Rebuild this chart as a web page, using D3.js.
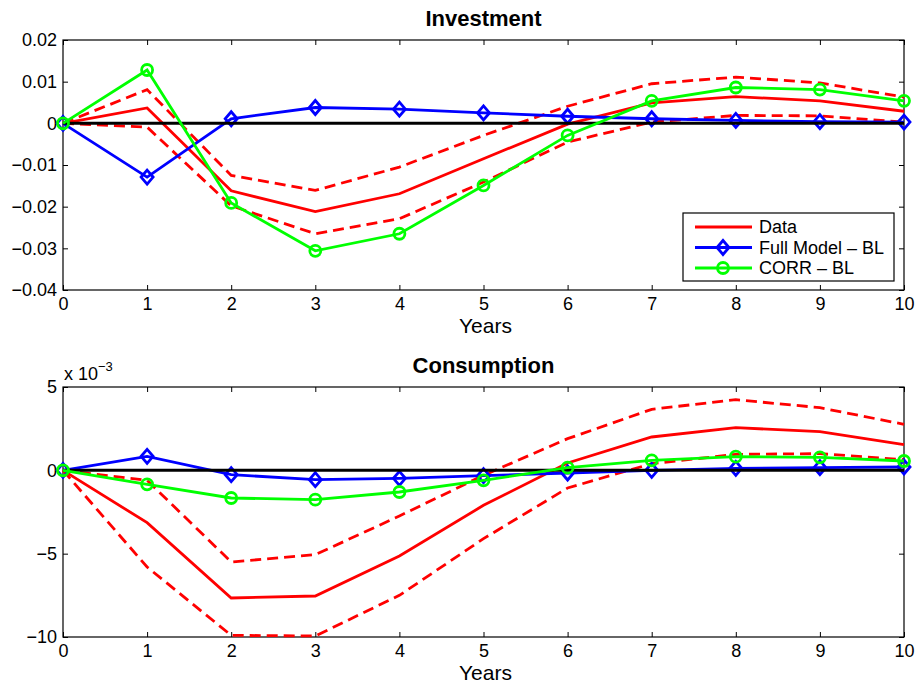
<!DOCTYPE html>
<html>
<head>
<meta charset="utf-8">
<script src="https://cdn.jsdelivr.net/npm/d3@7"></script>
<style>
  html, body { margin: 0; padding: 0; background: #fff; }
  svg { display: block; font-family: "Liberation Sans", Arial, Helvetica, sans-serif; }
</style>
</head>
<body>
<div id="chart"></div>
<script>
// ── Datos ─────────────────────────────────────────────────────────────────
const years = [0, 1, 2, 3, 4, 5, 6, 7, 8, 9, 10];

// Investment
const invData  = [0, 0.0037, -0.0162, -0.0212, -0.0169, -0.0085, -0.0002, 0.0049, 0.0064, 0.0054, 0.0029];
const invUpper = [0, 0.0081, -0.0125, -0.0161, -0.0105, -0.0029, 0.0041, 0.0095, 0.0111, 0.0097, 0.0063];
const invLower = [0, -0.0009, -0.0198, -0.0265, -0.0229, -0.0141, -0.0045, 0.0003, 0.0019, 0.0018, 0.0003];
const invFull  = [0, -0.0129, 0.0011, 0.0038, 0.0034, 0.0025, 0.0017, 0.0011, 0.0007, 0.0004, 0.0003];
const invCorr  = [0, 0.0128, -0.0191, -0.0306, -0.0265, -0.0149, -0.0029, 0.0054, 0.0086, 0.0081, 0.0054];
const invTicks = [0.02, 0.01, 0, -0.01, -0.02, -0.03, -0.04];

// Consumption (en unidades de 10^-3)
const conData  = [0, -3.14, -7.66, -7.54, -5.14, -2.1, 0.44, 2.0, 2.56, 2.32, 1.54];
const conUpper = [0, -0.6, -5.5, -5.06, -2.74, -0.3, 1.9, 3.66, 4.24, 3.76, 2.76];
const conLower = [0, -5.8, -9.9, -9.94, -7.5, -4.1, -1.06, 0.4, 0.96, 1.0, 0.64];
const conFull  = [0, 0.84, -0.26, -0.56, -0.48, -0.32, -0.16, 0.0, 0.12, 0.16, 0.2];
const conCorr  = [0, -0.84, -1.66, -1.76, -1.3, -0.6, 0.16, 0.6, 0.82, 0.78, 0.56];
const conTicks = [5, 0, -5, -10];

const legendLabels = ["Data", "Full Model \u2013 BL", "CORR \u2013 BL"];

// ── SVG ───────────────────────────────────────────────────────────────────
const width = 916, height = 684;
const svg = d3.select("#chart").append("svg")
  .attr("width", width)
  .attr("height", height);

const RED = "#ff0000", BLUE = "#0000ff", GREEN = "#00ff00";
const LW = 2.8;

const fmt = d => d === 0 ? "0" : String(+d.toFixed(3)).replace("-", "\u2212");

function drawPanel(cfg) {
  const x = d3.scaleLinear().domain([0, 10]).range([63, 904]);
  const y = d3.scaleLinear().domain(cfg.domain).range([cfg.bottom, cfg.top]);
  const g = svg.append("g");

  const line = d3.line().x((d, i) => x(years[i])).y(d => y(d));

  // ejes
  g.append("g")
    .attr("transform", `translate(0,${cfg.bottom})`)
    .call(d3.axisBottom(x).tickValues(years).tickSize(-5).tickPadding(7).tickFormat(d3.format("d")))
    .call(a => a.select(".domain").remove());
  g.append("g")
    .attr("transform", `translate(0,${cfg.top})`)
    .call(d3.axisTop(x).tickValues(years).tickSize(-5).tickFormat(""))
    .call(a => a.select(".domain").remove());
  g.append("g")
    .attr("transform", "translate(63,0)")
    .call(d3.axisLeft(y).tickValues(cfg.ticks).tickSize(-5).tickPadding(6).tickFormat(fmt))
    .call(a => a.select(".domain").remove());
  g.append("g")
    .attr("transform", "translate(904,0)")
    .call(d3.axisRight(y).tickValues(cfg.ticks).tickSize(-5).tickFormat(""))
    .call(a => a.select(".domain").remove());

  g.selectAll(".tick line").attr("stroke", "#000");
  g.selectAll(".tick text")
    .style("font-size", "18px")
    .style("font-family", "'Liberation Sans', Arial, sans-serif")
    .attr("fill", "#000");

  g.append("rect")
    .attr("x", x(0)).attr("y", cfg.top)
    .attr("width", x(10) - x(0)).attr("height", cfg.bottom - cfg.top)
    .attr("fill", "none").attr("stroke", "#000").attr("stroke-width", 1.2);

  // bandas del dato
  [cfg.upper, cfg.lower].forEach(s => {
    g.append("path").datum(s)
      .attr("d", line)
      .attr("fill", "none").attr("stroke", RED)
      .attr("stroke-width", LW).attr("stroke-dasharray", "11,6");
  });
  g.append("path").datum(cfg.data)
    .attr("d", line).attr("fill", "none").attr("stroke", RED).attr("stroke-width", LW);

  // modelo completo
  g.append("path").datum(cfg.full)
    .attr("d", line).attr("fill", "none").attr("stroke", BLUE).attr("stroke-width", LW);
  g.append("g").selectAll("path")
    .data(cfg.full)
    .join("path")
    .attr("transform", (d, i) => `translate(${x(years[i])},${y(d)})`)
    .attr("d", "M0,-7L6,0L0,7L-6,0Z")
    .attr("fill", "none").attr("stroke", BLUE).attr("stroke-width", LW);

  // línea cero
  g.append("line")
    .attr("x1", x(0)).attr("x2", x(10))
    .attr("y1", y(0)).attr("y2", y(0))
    .attr("stroke", "#000").attr("stroke-width", 3);

  // CORR
  g.append("path").datum(cfg.corr)
    .attr("d", line).attr("fill", "none").attr("stroke", GREEN).attr("stroke-width", LW);
  g.append("g").selectAll("circle")
    .data(cfg.corr)
    .join("circle")
    .attr("cx", (d, i) => x(years[i]))
    .attr("cy", d => y(d))
    .attr("r", 5.5)
    .attr("fill", "none").attr("stroke", GREEN).attr("stroke-width", LW);

  // títulos
  g.append("text")
    .attr("x", (x(0) + x(10)) / 2).attr("y", cfg.top - 14)
    .attr("text-anchor", "middle")
    .style("font-size", "22px").style("font-weight", "bold")
    .text(cfg.title);
  g.append("text")
    .attr("x", (x(0) + x(10)) / 2 + 2).attr("y", cfg.bottom + 43)
    .attr("text-anchor", "middle")
    .style("font-size", "21px")
    .text("Years");

  return { x, y, g };
}

drawPanel({
  title: "Investment", top: 40, bottom: 290, domain: [-0.04, 0.02], ticks: invTicks,
  data: invData, upper: invUpper, lower: invLower, full: invFull, corr: invCorr
});

drawPanel({
  title: "Consumption", top: 387, bottom: 637, domain: [-10, 5], ticks: conTicks,
  data: conData, upper: conUpper, lower: conLower, full: conFull, corr: conCorr
});

// exponente
const expo = svg.append("text")
  .attr("x", 64).attr("y", 380)
  .style("font-size", "18px")
  .text("x 10");
expo.append("tspan")
  .attr("dy", -9).style("font-size", "13px")
  .text("\u22123");

// ── Leyenda ───────────────────────────────────────────────────────────────
const leg = svg.append("g");
leg.append("rect")
  .attr("x", 683).attr("y", 213).attr("width", 211).attr("height", 68)
  .attr("fill", "#fff").attr("stroke", "#000").attr("stroke-width", 1.2);

const legColors = [RED, BLUE, GREEN];
const legY = d3.scalePoint().domain(legendLabels).range([227, 268]);
legendLabels.forEach((lab, i) => {
  const yy = legY(lab);
  leg.append("line")
    .attr("x1", 695).attr("x2", 752).attr("y1", yy).attr("y2", yy)
    .attr("stroke", legColors[i]).attr("stroke-width", LW);
  if (i === 1) {
    leg.append("path")
      .attr("transform", `translate(723,${yy})`)
      .attr("d", "M0,-7L6,0L0,7L-6,0Z")
      .attr("fill", "none").attr("stroke", BLUE).attr("stroke-width", LW);
  }
  if (i === 2) {
    leg.append("circle")
      .attr("cx", 723).attr("cy", yy).attr("r", 5.5)
      .attr("fill", "none").attr("stroke", GREEN).attr("stroke-width", LW);
  }
  leg.append("text")
    .attr("x", 759).attr("y", yy).attr("dy", "0.36em")
    .style("font-size", "18px")
    .text(lab);
});
</script>
</body>
</html>
